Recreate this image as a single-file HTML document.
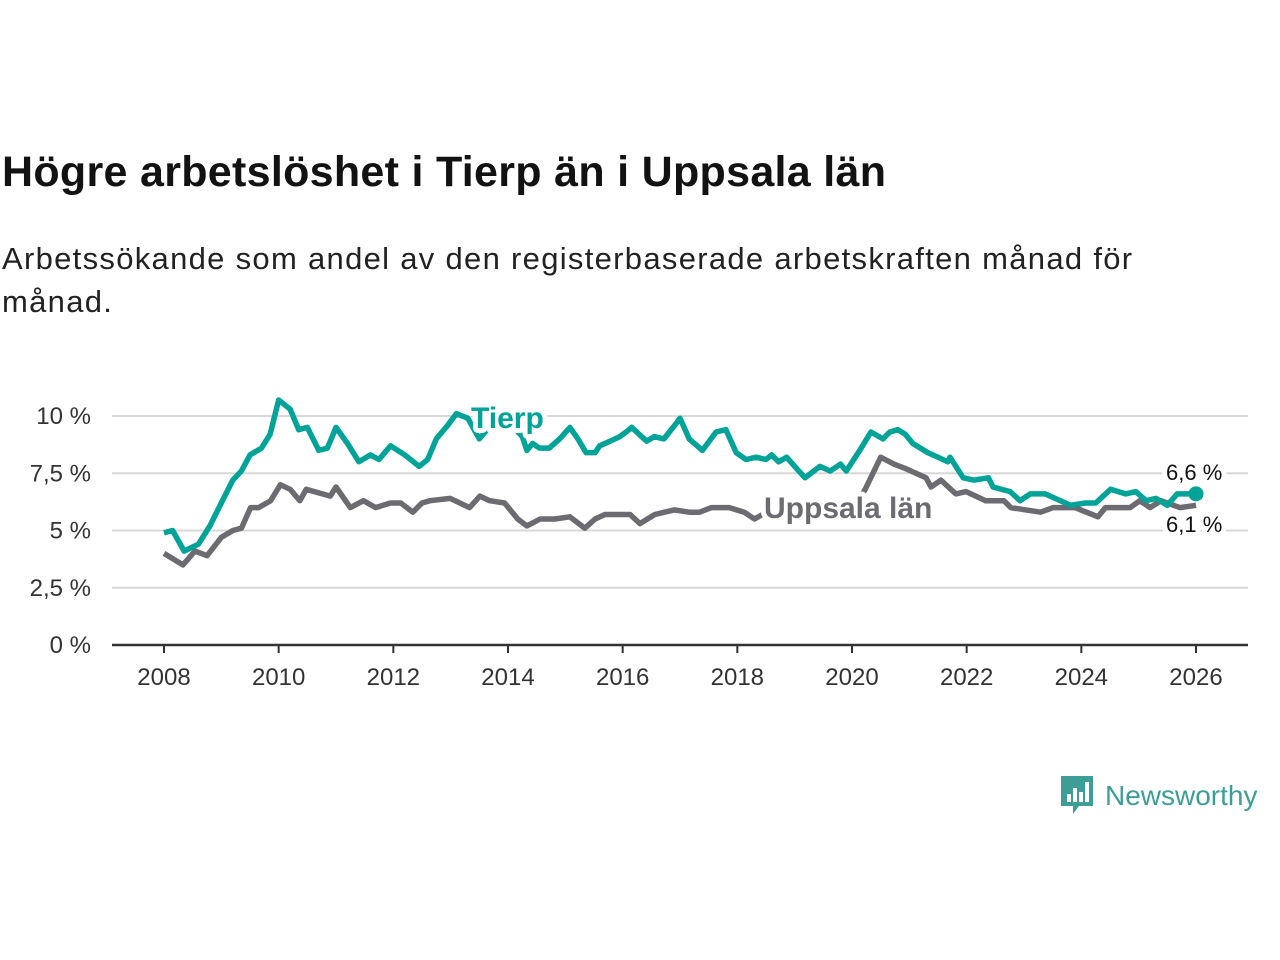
<!DOCTYPE html>
<html><head><meta charset="utf-8"><style>
body{margin:0;background:#fff;width:1280px;height:960px;overflow:hidden;font-family:"Liberation Sans","DejaVu Sans",sans-serif;}
h1{position:absolute;left:2px;top:148px;margin:0;font-size:43px;font-weight:bold;color:#121212;letter-spacing:0.3px}
p{position:absolute;left:2px;top:237px;margin:0;font-size:31px;line-height:43px;color:#222;width:1200px;letter-spacing:1.3px}
svg{position:absolute;left:0;top:0}
</style></head><body>
<h1>Högre arbetslöshet i Tierp än i Uppsala län</h1>
<p>Arbetssökande som andel av den registerbaserade arbetskraften månad för månad.</p>
<svg id="chart" width="1280" height="960"></svg>
<script>
const tierpYears=[2008.0,2008.15,2008.35,2008.6,2008.8,2009.0,2009.2,2009.35,2009.5,2009.7,2009.85,2010.0,2010.2,2010.35,2010.5,2010.7,2010.85,2011.0,2011.2,2011.4,2011.6,2011.75,2011.95,2012.2,2012.45,2012.6,2012.75,2012.95,2013.1,2013.3,2013.5,2013.7,2013.9,2014.1,2014.25,2014.33,2014.43,2014.55,2014.72,2014.9,2015.08,2015.22,2015.36,2015.52,2015.6,2015.78,2015.95,2016.06,2016.16,2016.33,2016.42,2016.55,2016.72,2016.88,2017.0,2017.16,2017.39,2017.63,2017.8,2017.98,2018.15,2018.33,2018.5,2018.6,2018.72,2018.86,2019.0,2019.18,2019.44,2019.62,2019.8,2019.9,2020.16,2020.33,2020.54,2020.66,2020.8,2020.93,2021.06,2021.32,2021.5,2021.67,2021.71,2021.94,2022.12,2022.38,2022.46,2022.76,2022.93,2023.11,2023.37,2023.81,2024.07,2024.25,2024.51,2024.77,2024.95,2025.13,2025.3,2025.5,2025.67,2025.85,2026.0];
const tierpValues=[4.9,5.0,4.1,4.4,5.2,6.2,7.2,7.6,8.3,8.6,9.2,10.7,10.3,9.4,9.5,8.5,8.6,9.5,8.8,8.0,8.3,8.1,8.7,8.3,7.8,8.1,9.0,9.6,10.1,9.9,9.0,9.6,9.7,9.5,9.1,8.5,8.8,8.6,8.6,9.0,9.5,9.0,8.4,8.4,8.7,8.9,9.1,9.3,9.5,9.1,8.9,9.1,9.0,9.5,9.9,9.0,8.5,9.3,9.4,8.4,8.1,8.2,8.1,8.3,8.0,8.2,7.8,7.3,7.8,7.6,7.9,7.6,8.6,9.3,9.0,9.3,9.4,9.2,8.8,8.4,8.2,8.0,8.2,7.3,7.2,7.3,6.9,6.7,6.3,6.6,6.6,6.1,6.2,6.2,6.8,6.6,6.7,6.3,6.4,6.1,6.6,6.6,6.6];
const uppsalaYears=[2008.0,2008.33,2008.54,2008.75,2009.0,2009.2,2009.35,2009.51,2009.65,2009.86,2010.03,2010.2,2010.37,2010.48,2010.9,2011.0,2011.25,2011.48,2011.69,2011.95,2012.13,2012.34,2012.5,2012.64,2012.99,2013.33,2013.51,2013.68,2013.94,2014.17,2014.33,2014.56,2014.82,2015.08,2015.34,2015.52,2015.69,2016.13,2016.3,2016.56,2016.73,2016.9,2017.16,2017.34,2017.55,2017.74,2017.86,2018.12,2018.3,2018.44,2018.8,2019.2,2019.6,2020.0,2020.23,2020.5,2020.73,2020.94,2021.29,2021.38,2021.55,2021.81,2021.99,2022.33,2022.65,2022.77,2023.29,2023.51,2023.89,2024.29,2024.42,2024.85,2025.02,2025.2,2025.39,2025.72,2026.0];
const uppsalaValues=[4.0,3.5,4.1,3.9,4.7,5.0,5.1,6.0,6.0,6.3,7.0,6.8,6.3,6.8,6.5,6.9,6.0,6.3,6.0,6.2,6.2,5.8,6.2,6.3,6.4,6.0,6.5,6.3,6.2,5.5,5.2,5.5,5.5,5.6,5.1,5.5,5.7,5.7,5.3,5.7,5.8,5.9,5.8,5.8,6.0,6.0,6.0,5.8,5.5,5.7,5.8,5.7,5.6,5.8,6.8,8.2,7.9,7.7,7.3,6.9,7.2,6.6,6.7,6.3,6.3,6.0,5.8,6.0,6.0,5.6,6.0,6.0,6.3,6.0,6.3,6.0,6.1];
const yTicks=[0,2.5,5,7.5,10];
const yTickLabels=["0 %","2,5 %","5 %","7,5 %","10 %"];
const xTicks=[2008,2010,2012,2014,2016,2018,2020,2022,2024,2026];

const NS="http://www.w3.org/2000/svg";
const svg=document.getElementById('chart');
const X=y=>164+(y-2008)*(1196-164)/18;
const Y=v=>645-v*(645-416)/10;
function mk(t,a,txt){const e=document.createElementNS(NS,t);for(const k in a)e.setAttribute(k,a[k]);if(txt!==undefined)e.textContent=txt;svg.appendChild(e);return e;}
yTicks.forEach((v,i)=>{
  if(v>0){const g=mk('line',{x1:112,x2:1248,y1:Y(v),y2:Y(v),stroke:'#d8d8d8','stroke-width':2});
  
  }
  const t=mk('text',{x:91,y:Y(v)+8,'text-anchor':'end','font-size':24,fill:'#333'},yTickLabels[i]);
  
  
});
const ax=mk('line',{x1:112,x2:1248,y1:645,y2:645,stroke:'#333','stroke-width':2.5});


xTicks.forEach(yr=>{
  const tk=mk('line',{x1:X(yr),x2:X(yr),y1:645,y2:653,stroke:'#333','stroke-width':2});
  
  
  const t=mk('text',{x:X(yr),y:685,'text-anchor':'middle','font-size':24,fill:'#333'},String(yr));
  
  
});
function line(xs,vs,col,name){
  const d=xs.map((x,i)=>(i?'L':'M')+X(x).toFixed(1)+','+Y(vs[i]).toFixed(1)).join('');
  const p=mk('path',{d:d,fill:'none',stroke:col,'stroke-width':5.5,'stroke-linejoin':'round'});
  
  
}
line(uppsalaYears,uppsalaValues,'#6d6b72','uppsala-line');
line(tierpYears,tierpValues,'#00a397','tierp-line');
const dot=mk('circle',{cx:X(2026),cy:Y(tierpValues[tierpValues.length-1]),r:7.5,fill:'#00a397'});


function lbl(x,y,txt,col,size,w,name){
  const t=mk('text',{x:x,y:y,'font-size':size,'font-weight':w,fill:col,stroke:'#fff','stroke-width':10,'paint-order':'stroke','stroke-linejoin':'round'},txt);
  
  
}
lbl(471,428,'Tierp','#00a397',30,'bold','tierp-label');
lbl(764,518,'Uppsala län','#6d6b72',30,'bold','uppsala-label');
lbl(1166,480,'6,6 %','#111',22,'normal','tierp-end-value');
lbl(1166,532,'6,1 %','#111',22,'normal','uppsala-end-value');
</script>
<div style="position:absolute;left:1059px;top:774px;display:flex;align-items:center">
<svg width="36" height="44" style="position:static"><path d="M2 2h32v30H20l-6 8v-8H2z" fill="#3d9e97"/><rect x="8" y="20" width="4" height="8" fill="#fff"/><rect x="14" y="14" width="4" height="14" fill="#fff"/><rect x="20" y="18" width="4" height="10" fill="#fff"/><rect x="26" y="8" width="4" height="20" fill="#fff"/></svg>
<span style="font-size:28px;color:#3d9e97;margin-left:10px;font-weight:normal">Newsworthy</span></div>
</body></html>
